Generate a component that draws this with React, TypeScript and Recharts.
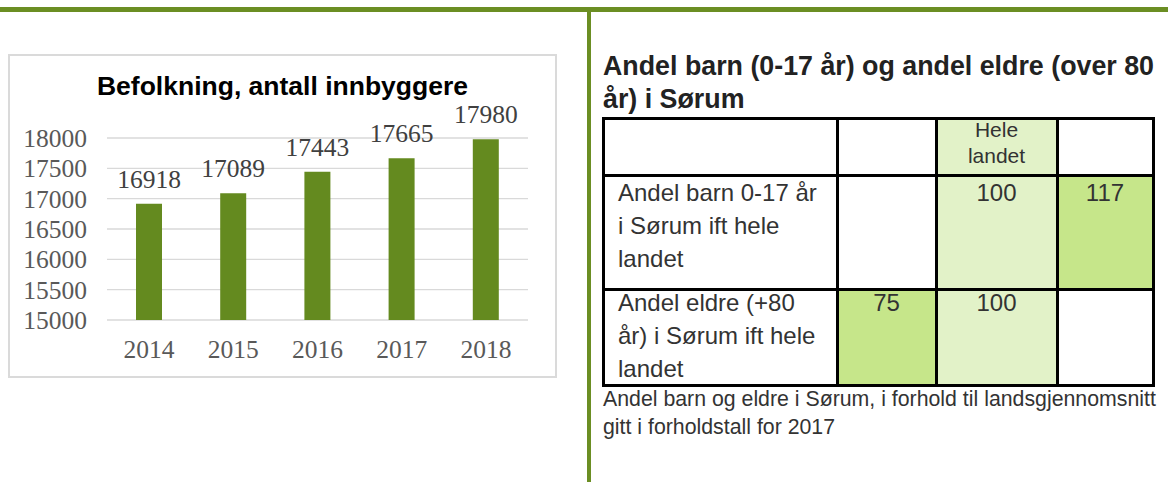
import React from "react";
import { BarChart, Bar, XAxis, YAxis, CartesianGrid, LabelList } from "recharts";

const years = ["2014", "2015", "2016", "2017", "2018"];
const population = [16918, 17089, 17443, 17665, 17980];
const yTicks = [15000, 15500, 16000, 16500, 17000, 17500, 18000];

const chartTitle = "Befolkning, antall innbyggere";
const tableTitle = ["Andel barn (0-17 år) og andel eldre (over 80", "år) i Sørum"];
const headerLines = ["Hele", "landet"];
const rowLabels = [
  ["Andel barn 0-17 år", "i Sørum ift hele", "landet"],
  ["Andel eldre (+80", "år) i Sørum ift hele", "landet"],
];
// kolonner: Sørum lav, hele landet, Sørum høy
const rowValues = [
  [null, 100, 117],
  [75, 100, null],
];
const caption = [
  "Andel barn og eldre i Sørum, i forhold til landsgjennomsnitt",
  "gitt i forholdstall for 2017",
];

const GREEN = "#6b8e23";
const BAR = "#648a1f";
const LIGHT = "#e2f2c8";
const MID = "#c6e68a";
const SANS = "'Liberation Sans', Arial, sans-serif";
const SERIF = "'Liberation Serif', 'Times New Roman', serif";

const colX = [603, 837, 936, 1057, 1153];
const rowY = [118, 175, 289, 385];
const rowBaseline = [201, 311];

function PopulationChart() {
  const data = years.map((year, i) => ({ year, value: population[i] }));
  return (
    <div style={{ position: "absolute", left: 8, top: 54, width: 549, height: 324 }}>
      <div
        style={{
          position: "absolute",
          inset: 0,
          border: "2px solid #dadada",
          boxSizing: "border-box",
        }}
      />
      <div
        style={{
          position: "absolute",
          left: 0,
          width: 549,
          top: 19,
          textAlign: "center",
          font: `bold 26.5px ${SANS}`,
          lineHeight: "26px",
          color: "#000",
          whiteSpace: "nowrap",
        }}
      >
        {chartTitle}
      </div>
      <BarChart
        width={549}
        height={324}
        data={data}
        margin={{ top: 84, right: 29, bottom: 18, left: 0 }}
        style={{ position: "absolute", left: 0, top: 0 }}
      >
        <CartesianGrid vertical={false} stroke="#d9d9d9" strokeWidth={1.3} />
        <XAxis
          dataKey="year"
          axisLine={false}
          tickLine={false}
          height={40}
          tickMargin={14}
          tick={{ fill: "#595959", fontSize: 25.5, fontFamily: SERIF }}
        />
        <YAxis
          domain={[15000, 18000]}
          ticks={yTicks}
          interval={0}
          width={99}
          axisLine={false}
          tickLine={false}
          tickMargin={14}
          tick={{ fill: "#595959", fontSize: 25.5, fontFamily: SERIF }}
        />
        <Bar dataKey="value" fill={BAR} barSize={26} isAnimationActive={false}>
          <LabelList
            dataKey="value"
            position="top"
            offset={16}
            fill="#404040"
            fontSize={25.5}
            fontFamily={SERIF}
          />
        </Bar>
      </BarChart>
    </div>
  );
}

function TextLines({ lines, left, top, size, lh, width, align, bold, color }: any) {
  return (
    <div
      style={{
        position: "absolute",
        left,
        top,
        width,
        textAlign: align || "left",
        fontFamily: SANS,
        fontWeight: bold ? "bold" : "normal",
        fontSize: size,
        lineHeight: `${lh}px`,
        color: color || "#333",
        whiteSpace: "nowrap",
      }}
    >
      {lines.map((l: string, i: number) => (
        <div key={i}>{l}</div>
      ))}
    </div>
  );
}

function RatioTable() {
  const cells: any[] = [];
  // bakgrunn
  for (let r = 0; r < 3; r++) {
    for (let c = 0; c < 4; c++) {
      let bg = "#fff";
      if (c === 2) bg = LIGHT;
      if (r > 0) {
        const v = rowValues[r - 1][c - 1];
        if (c === 3 && v !== null && v !== undefined) bg = MID;
        if (c === 1 && v !== null && v !== undefined) bg = MID;
      }
      cells.push(
        <div
          key={`bg${r}${c}`}
          style={{
            position: "absolute",
            left: colX[c],
            top: rowY[r],
            width: colX[c + 1] - colX[c],
            height: rowY[r + 1] - rowY[r],
            background: bg,
          }}
        />
      );
    }
  }
  const lines: any[] = [];
  colX.forEach((x, i) =>
    lines.push(
      <div
        key={`v${i}`}
        style={{ position: "absolute", left: x - 1.5, top: rowY[0] - 1.5, width: 3, height: rowY[3] - rowY[0] + 3, background: "#000" }}
      />
    )
  );
  rowY.forEach((y, i) =>
    lines.push(
      <div
        key={`h${i}`}
        style={{ position: "absolute", left: colX[0] - 1.5, top: y - 1.5, width: colX[4] - colX[0] + 3, height: 3, background: "#000" }}
      />
    )
  );
  return (
    <>
      {cells}
      <TextLines
        lines={headerLines}
        left={colX[2]}
        width={colX[3] - colX[2]}
        top={138 - 21}
        size={21}
        lh={26}
        align="center"
      />
      {rowLabels.map((lbl, r) => (
        <TextLines key={`l${r}`} lines={lbl} left={618} top={rowBaseline[r] - 25} size={24} lh={33} />
      ))}
      {rowValues.map((vals, r) =>
        vals.map((v, c) =>
          v === null ? null : (
            <TextLines
              key={`v${r}${c}`}
              lines={[String(v)]}
              left={colX[c + 1]}
              width={colX[c + 2] - colX[c + 1]}
              top={rowBaseline[r] - 25}
              size={24}
              lh={33}
              align="center"
            />
          )
        )
      )}
      {lines}
    </>
  );
}

export default function App() {
  return (
    <div
      style={{
        position: "absolute",
        left: 0,
        top: 0,
        width: 1168,
        height: 482,
        background: "#fff",
        overflow: "hidden",
      }}
    >
      <div style={{ position: "absolute", left: 0, top: 7, width: 1168, height: 5, background: GREEN }} />
      <div style={{ position: "absolute", left: 587, top: 7, width: 4, height: 475, background: GREEN }} />
      <PopulationChart />
      <TextLines lines={tableTitle} left={603} top={50} size={26.8} lh={33} bold color="#222" />
      <RatioTable />
      <TextLines lines={caption} left={603} top={385} size={21.3} lh={28} />
    </div>
  );
}
